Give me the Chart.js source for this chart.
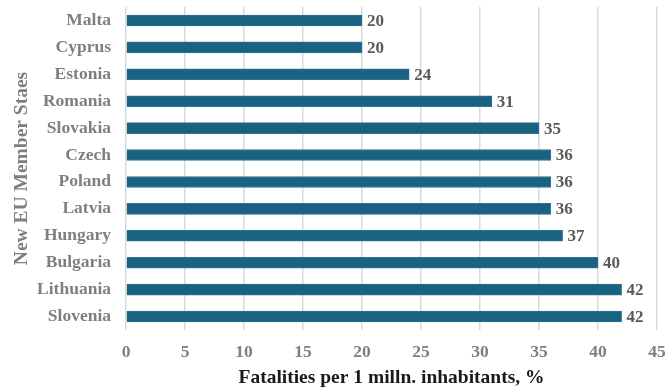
<!DOCTYPE html>
<html>
<head>
<meta charset="utf-8">
<script src="https://cdn.jsdelivr.net/npm/chart.js@4"></script>
<style>
html,body{margin:0;padding:0;background:#fff;}
#wrap{width:665px;height:390px;position:relative;}
</style>
</head>
<body>
<div id="wrap"><canvas id="c" width="665" height="390"></canvas></div>
<script>
const categories = ["Malta","Cyprus","Estonia","Romania","Slovakia","Czech","Poland","Latvia","Hungary","Bulgaria","Lithuania","Slovenia"];
const values = [20,20,24,31,35,36,36,36,37,40,42,42];
const xTicks = [0,5,10,15,20,25,30,35,40,45];
const xTitle = "Fatalities per 1 milln. inhabitants, %";
const yTitle = "New EU Member Staes";

const SERIF = "'Liberation Serif','Times New Roman',serif";

const labelPlugin = {
  id: 'barLabels',
  afterDatasetsDraw(chart) {
    const ctx = chart.ctx;
    const meta = chart.getDatasetMeta(0);
    ctx.save();
    ctx.font = "bold 17px " + SERIF;
    ctx.fillStyle = "#595959";
    ctx.textAlign = "left";
    ctx.textBaseline = "middle";
    meta.data.forEach((bar, i) => {
      ctx.fillText(String(values[i]), bar.x + 5, bar.y + 1);
    });
    ctx.restore();
  }
};

new Chart(document.getElementById('c'), {
  type: 'bar',
  data: {
    labels: categories,
    datasets: [{
      data: values,
      backgroundColor: '#1a6282',
      borderColor: '#2d7394',
      borderWidth: 1,
      barThickness: 11
    }]
  },
  options: {
    indexAxis: 'y',
    responsive: false,
    animation: false,
    layout: { padding: { top: 7, right: 8, left: 0, bottom: 0 } },
    plugins: { legend: { display: false }, tooltip: { enabled: false } },
    scales: {
      x: {
        min: 0, max: 45,
        afterBuildTicks(axis) { axis.ticks = xTicks.map(v => ({ value: v })); },
        afterFit(axis) { axis.paddingLeft = 0; axis.paddingRight = 0; axis.height = 60; },
        grid: { color: '#d9d9d9', lineWidth: 1.5, drawTicks: false },
        border: { display: false },
        ticks: { color: '#7f7f7f', font: { family: SERIF, size: 17.5, weight: 'bold' }, padding: 12 },
        title: { display: true, text: xTitle, color: '#1a1a1a', font: { family: SERIF, size: 19.5, weight: 'bold' }, padding: { top: 4, bottom: 0 } }
      },
      y: {
        afterFit(axis) { axis.paddingTop = 0; axis.paddingBottom = 0; axis.width = 126; },
        grid: { display: false, drawTicks: false },
        border: { display: false },
        ticks: { color: '#7f7f7f', font: { family: SERIF, size: 17.5, weight: 'bold' }, padding: 15 },
        title: { display: true, text: yTitle, color: '#7f7f7f', font: { family: SERIF, size: 19.5, weight: 'bold' }, padding: { top: 10, bottom: 4 } }
      }
    }
  },
  plugins: [labelPlugin]
});
</script>
</body>
</html>
